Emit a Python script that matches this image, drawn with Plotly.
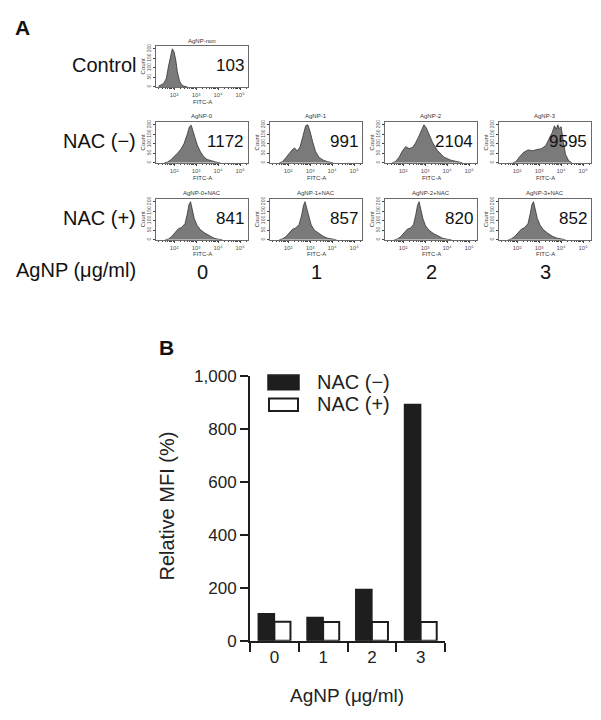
import math
import plotly.graph_objects as go

W, H = 601, 720

# ---------------- Data ----------------
# Panel A: flow cytometry histograms (log10 FITC-A vs count)
ctrl_logx = [1.3, 1.45, 1.55, 1.65, 1.75, 1.85, 1.92, 2.0, 2.08, 2.15, 2.25, 2.35, 2.45, 2.6]
ctrl_count = [5, 12, 22, 45, 110, 175, 200, 185, 140, 80, 30, 10, 4, 0]

nacm0_logx = [1.55, 1.7, 1.85, 2.0, 2.15, 2.3, 2.45, 2.6, 2.7, 2.78, 2.9, 3.05, 3.2, 3.35, 3.5, 3.7, 3.9, 4.1]
nacm0_count = [0, 4, 15, 30, 50, 70, 100, 150, 190, 198, 150, 95, 58, 32, 18, 9, 4, 0]

nacm1_logx = [1.6, 1.75, 1.92, 2.08, 2.2, 2.3, 2.42, 2.55, 2.68, 2.8, 2.9, 3.0, 3.12, 3.25, 3.4, 3.6, 3.8, 4.05]
nacm1_count = [0, 6, 30, 55, 70, 78, 62, 85, 140, 195, 200, 165, 110, 60, 30, 14, 6, 0]

nacm2_logx = [1.5, 1.65, 1.82, 1.97, 2.12, 2.27, 2.42, 2.55, 2.7, 2.85, 2.95, 3.05, 3.2, 3.35, 3.56, 3.86, 4.17, 4.47, 4.7]
nacm2_count = [0, 6, 30, 62, 85, 75, 80, 100, 135, 175, 200, 185, 140, 105, 65, 30, 14, 4, 0]

nacm3_logx = [1.8, 1.95, 2.1, 2.3, 2.5, 2.7, 2.9, 3.1, 3.3, 3.45, 3.6, 3.7, 3.78, 3.85, 3.92, 4.0, 4.08, 4.2, 4.35, 4.5]
nacm3_count = [0, 6, 30, 55, 68, 63, 70, 74, 90, 125, 160, 195, 175, 200, 180, 190, 130, 45, 10, 0]

nacp0_logx = [1.6, 1.75, 1.9, 2.05, 2.2, 2.35, 2.5, 2.6, 2.68, 2.75, 2.82, 2.92, 3.05, 3.2, 3.4, 3.6, 3.8, 4.0, 4.2]
nacp0_count = [0, 4, 18, 40, 58, 65, 85, 135, 185, 200, 165, 110, 75, 52, 35, 20, 9, 3, 0]

nacp1_logx = [1.6, 1.75, 1.9, 2.05, 2.2, 2.35, 2.5, 2.62, 2.7, 2.77, 2.84, 2.94, 3.05, 3.2, 3.4, 3.6, 3.8, 4.0, 4.2]
nacp1_count = [0, 5, 16, 35, 55, 62, 80, 130, 180, 200, 170, 115, 78, 50, 32, 18, 8, 3, 0]

nacp2_logx = [1.6, 1.75, 1.9, 2.05, 2.2, 2.35, 2.48, 2.58, 2.66, 2.73, 2.8, 2.9, 3.02, 3.18, 3.38, 3.6, 3.8, 4.0, 4.2]
nacp2_count = [0, 4, 17, 38, 56, 62, 82, 132, 182, 200, 168, 112, 74, 50, 33, 19, 8, 3, 0]

nacp3_logx = [1.6, 1.75, 1.9, 2.05, 2.2, 2.35, 2.5, 2.6, 2.68, 2.75, 2.82, 2.92, 3.05, 3.2, 3.4, 3.6, 3.8, 4.0, 4.2]
nacp3_count = [0, 5, 18, 38, 56, 64, 86, 138, 186, 200, 166, 112, 76, 52, 34, 19, 9, 3, 0]

hist_titles = ["AgNP-non", "AgNP-0", "AgNP-1", "AgNP-2", "AgNP-3",
               "AgNP-0+NAC", "AgNP-1+NAC", "AgNP-2+NAC", "AgNP-3+NAC"]
hist_mfi = ["103", "1172", "991", "2104", "9595", "841", "857", "820", "852"]
row_labels = ["Control", "NAC (\u2212)", "NAC (+)"]
col_labels = ["0", "1", "2", "3"]
hist_xticks = ["10\u00b2", "10\u00b3", "10\u2074", "10\u2075"]
hist_yticks = [0, 50, 100, 150, 200]

# Panel B: relative MFI (%)
doses = ["0", "1", "2", "3"]
mfi_nac_minus = [102, 88, 194, 893]
mfi_nac_plus = [72, 71, 71, 71]
series_names = ["NAC (\u2212)", "NAC (+)"]

# ---------------- Layout helpers ----------------
def px(x):
    return x / W

def py(y):
    return 1 - y / H

FONT = "Liberation Sans, Arial, sans-serif"
SMALL = 6

col_x = [(156, 248), (270, 362), (385, 477), (499, 591)]
row_y = [(38, 80), (116, 158), (195, 237)]

hist_data = [
    (ctrl_logx, ctrl_count, 0, 0),
    (nacm0_logx, nacm0_count, 1, 0),
    (nacm1_logx, nacm1_count, 1, 1),
    (nacm2_logx, nacm2_count, 1, 2),
    (nacm3_logx, nacm3_count, 1, 3),
    (nacp0_logx, nacp0_count, 2, 0),
    (nacp1_logx, nacp1_count, 2, 1),
    (nacp2_logx, nacp2_count, 2, 2),
    (nacp3_logx, nacp3_count, 2, 3),
]

fig = go.Figure()
layout = dict(
    width=W, height=H, autosize=False,
    margin=dict(l=0, r=0, t=0, b=0),
    paper_bgcolor="white", plot_bgcolor="white",
    showlegend=False,
    font=dict(family=FONT, color="#1a1a1a"),
)
annotations = []
shapes = []

minor_vals = []
for d in range(1, 6):
    for k in range(2, 10):
        v = d + math.log10(k)
        if 1.18 <= v <= 5.36:
            minor_vals.append(v)

for i, (lx, cnt, r, c) in enumerate(hist_data):
    n = i + 1
    xa = "x" if n == 1 else f"x{n}"
    ya = "y" if n == 1 else f"y{n}"
    xkey = "xaxis" if n == 1 else f"xaxis{n}"
    ykey = "yaxis" if n == 1 else f"yaxis{n}"
    x0, x1 = col_x[c]
    y0, y1 = row_y[r]
    fig.add_trace(go.Scatter(
        x=lx, y=cnt, mode="lines", fill="tozeroy",
        fillcolor="#7a7a7a", line=dict(color="#333333", width=0.8),
        xaxis=xa, yaxis=ya, hoverinfo="skip",
    ))
    layout[xkey] = dict(
        domain=[px(x0), px(x1)], range=[1.18, 5.36], anchor=ya,
        showline=True, mirror=True, linecolor="#6a6a6a", linewidth=1,
        showgrid=False, zeroline=False,
        ticks="outside", ticklen=2, tickwidth=0.8, tickcolor="#444",
        tickvals=[2, 3, 4, 5], ticktext=hist_xticks,
        tickfont=dict(size=SMALL, color="#555"),
        minor=dict(tickvals=minor_vals, ticks="outside", ticklen=1.5, tickcolor="#444", tickwidth=0.6),
    )
    layout[ykey] = dict(
        domain=[py(y1), py(y0)], range=[0, 215], anchor=xa,
        showline=True, mirror=True, linecolor="#6a6a6a", linewidth=1,
        showgrid=False, zeroline=False,
        ticks="outside", ticklen=2, tickwidth=0.8, tickcolor="#444",
        tickvals=hist_yticks, tickangle=-90,
        tickfont=dict(size=SMALL - 1, color="#555"),
    )
    cx = (x0 + x1) / 2
    annotations.append(dict(text=hist_titles[i], x=px(cx), y=py(y0 - 0.5), xref="paper", yref="paper",
                            xanchor="center", yanchor="bottom", showarrow=False,
                            font=dict(size=SMALL, color="#333")))
    annotations.append(dict(text="FITC-A", x=px(cx), y=py(y1 + 10), xref="paper", yref="paper",
                            xanchor="center", yanchor="top", showarrow=False,
                            font=dict(size=SMALL, color="#333")))
    annotations.append(dict(text="Count", x=px(x0 - 13), y=py((y0 + y1) / 2), xref="paper", yref="paper",
                            xanchor="center", yanchor="middle", showarrow=False, textangle=-90,
                            font=dict(size=SMALL, color="#333")))
    annotations.append(dict(text=hist_mfi[i], x=px(x1 - 2), y=py((y0 + y1) / 2 - 1), xref="paper", yref="paper",
                            xanchor="right", yanchor="middle", showarrow=False,
                            font=dict(size=17, color="#111")))

# Panel A labels
annotations.append(dict(text="<b>A</b>", x=px(13), y=py(19), xref="paper", yref="paper",
                        xanchor="left", yanchor="middle", showarrow=False,
                        font=dict(size=21, color="#111")))
for r, lab in enumerate(row_labels):
    y0, y1 = row_y[r]
    annotations.append(dict(text=lab, x=px(138), y=py((y0 + y1) / 2 - 1), xref="paper", yref="paper",
                            xanchor="right", yanchor="middle", showarrow=False,
                            font=dict(size=20, color="#111")))
annotations.append(dict(text="AgNP (\u03bcg/ml)", x=px(14), y=py(268), xref="paper", yref="paper",
                        xanchor="left", yanchor="middle", showarrow=False,
                        font=dict(size=20, color="#111")))
for c, lab in enumerate(col_labels):
    x0, x1 = col_x[c]
    annotations.append(dict(text=lab, x=px((x0 + x1) / 2), y=py(270), xref="paper", yref="paper",
                            xanchor="center", yanchor="middle", showarrow=False,
                            font=dict(size=20, color="#111")))

# ---------------- Panel B ----------------
fig.add_trace(go.Bar(
    x=doses, y=mfi_nac_minus, name=series_names[0],
    marker=dict(color="#1e1e1e", line=dict(color="#1e1e1e", width=1.5)),
    xaxis="x10", yaxis="y10", hoverinfo="skip",
))
fig.add_trace(go.Bar(
    x=doses, y=mfi_nac_plus, name=series_names[1],
    marker=dict(color="white", line=dict(color="#1e1e1e", width=2)),
    xaxis="x10", yaxis="y10", hoverinfo="skip",
))
layout["barmode"] = "group"
layout["bargap"] = 0.34
layout["bargroupgap"] = 0
layout["xaxis10"] = dict(
    domain=[px(250), px(445)], anchor="y10", type="category",
    range=[-0.5, 3.5],
    showline=True, linecolor="#1e1e1e", linewidth=2,
    ticks="outside", tickson="boundaries", ticklen=9, tickwidth=2, tickcolor="#1e1e1e",
    showgrid=False, zeroline=False,
    tickfont=dict(size=17, color="#222"),
)
layout["yaxis10"] = dict(
    domain=[py(649), py(377)], anchor="x10", range=[0, 1000],
    showline=True, linecolor="#1e1e1e", linewidth=2,
    ticks="outside", ticklen=8, tickwidth=2, tickcolor="#1e1e1e",
    tickvals=[0, 200, 400, 600, 800, 1000], tickformat=",",
    showgrid=False, zeroline=False,
    tickfont=dict(size=17, color="#222"),
)

annotations.append(dict(text="<b>B</b>", x=px(157), y=py(348), xref="paper", yref="paper",
                        xanchor="left", yanchor="middle", showarrow=False,
                        font=dict(size=21, color="#111")))
annotations.append(dict(text="Relative MFI (%)", x=px(167), y=py(510), xref="paper", yref="paper",
                        xanchor="center", yanchor="middle", showarrow=False, textangle=-90,
                        font=dict(size=20, color="#222")))
annotations.append(dict(text="AgNP (\u03bcg/ml)", x=px(347), y=py(705), xref="paper", yref="paper",
                        xanchor="center", yanchor="middle", showarrow=False,
                        font=dict(size=19, color="#222")))

# Legend (custom)
shapes.append(dict(type="rect", xref="paper", yref="paper",
                   x0=px(268), x1=px(299), y0=py(391), y1=py(376),
                   fillcolor="#1e1e1e", line=dict(color="#1e1e1e", width=1.5)))
shapes.append(dict(type="rect", xref="paper", yref="paper",
                   x0=px(269), x1=px(298), y0=py(413), y1=py(400),
                   fillcolor="white", line=dict(color="#1e1e1e", width=2)))
annotations.append(dict(text=series_names[0], x=px(315), y=py(383), xref="paper", yref="paper",
                        xanchor="left", yanchor="middle", showarrow=False,
                        font=dict(size=20, color="#222")))
annotations.append(dict(text=series_names[1], x=px(315), y=py(406), xref="paper", yref="paper",
                        xanchor="left", yanchor="middle", showarrow=False,
                        font=dict(size=20, color="#222")))

layout["annotations"] = annotations
layout["shapes"] = shapes
fig.update_layout(**layout)

fig.write_html("out.html", config={"displayModeBar": False},
               post_script="document.body.style.margin='0';document.body.style.overflow='hidden';")
